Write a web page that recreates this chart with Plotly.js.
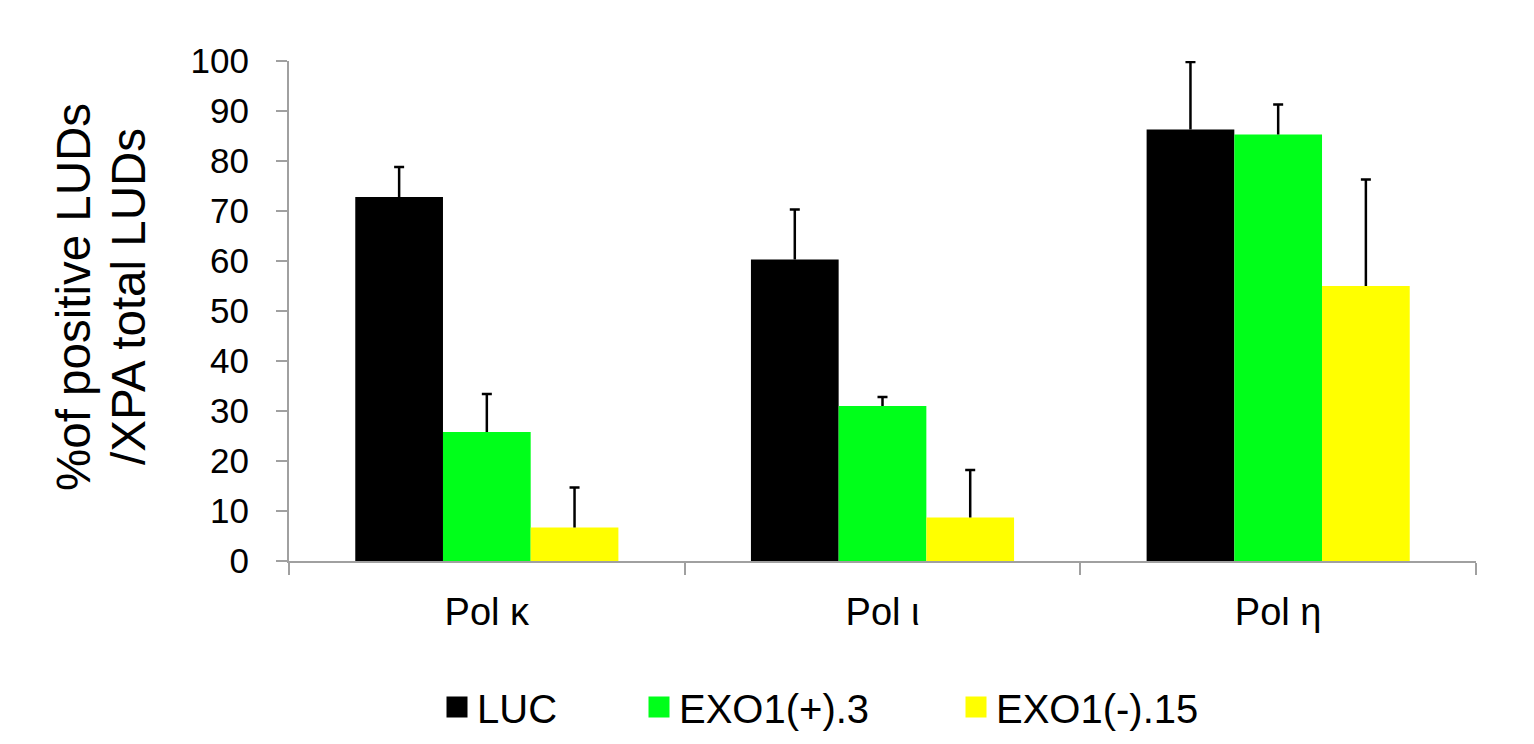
<!DOCTYPE html>
<html>
<head>
<meta charset="utf-8">
<script src="https://cdn.plot.ly/plotly-3.0.1.min.js"></script>
<style>html,body{margin:0;padding:0;background:#fff;}#chart{width:1534px;height:744px;}</style>
</head>
<body>
<div id="chart"></div>
<script>
const categories = ["Pol κ", "Pol ι", "Pol η"];
const seriesNames = ["LUC", "EXO1(+).3", "EXO1(-).15"];
const lucValues = [72.8, 60.3, 86.3];
const lucErrors = [6.0, 10.0, 13.5];
const exoPlusValues = [25.8, 31.0, 85.3];
const exoPlusErrors = [7.6, 1.8, 6.0];
const exoMinusValues = [6.7, 8.7, 55.0];
const exoMinusErrors = [8.0, 9.5, 21.3];
const yTickValues = [0, 10, 20, 30, 40, 50, 60, 70, 80, 90, 100];
const yTitleLines = ["%of positive LUDs", "/XPA total LUDs"];

const colors = ["#000000", "#00FF1A", "#FFFF00"];
const values = [lucValues, exoPlusValues, exoMinusValues];
const errors = [lucErrors, exoPlusErrors, exoMinusErrors];
const legendIds = ["legend", "legend2", "legend3"];
const legendX = [437, 639, 956];

const FONT = "Liberation Sans, Arial, sans-serif";
const traces = [];
// bars with error stems (no caps)
for (let i = 0; i < 3; i++) {
  traces.push({
    type: "bar",
    x: categories,
    y: values[i],
    name: seriesNames[i],
    showlegend: false,
    marker: {color: colors[i], line: {width: 0}},
    error_y: {type: "data", array: errors[i], symmetric: false, arrayminus: [0,0,0],
              visible: true, color: "#000000", thickness: 2.5, width: 0},
    hoverinfo: "skip"
  });
}
// top caps of the error bars (grouped scatter points at value + error)
for (let i = 0; i < 3; i++) {
  traces.push({
    type: "scatter", mode: "markers",
    x: categories,
    y: values[i].map((v, k) => v + errors[i][k]),
    showlegend: false,
    marker: {color: "rgba(0,0,0,0)", size: 1},
    error_y: {type: "data", array: [0,0,0], visible: true, color: "#000000", thickness: 2.5, width: 5},
    hoverinfo: "skip"
  });
}
// legend entries (on a hidden axis pair)
for (let i = 0; i < 3; i++) {
  traces.push({
    type: "scatter", mode: "markers",
    x: [null], y: [null],
    xaxis: "x2", yaxis: "y2",
    name: seriesNames[i],
    legend: legendIds[i],
    showlegend: true,
    marker: {symbol: "square", size: 16, color: colors[i], line: {width: 5, color: colors[i]}},
    hoverinfo: "skip"
  });
}

const legendBase = (i) => ({
  xref: "container", yref: "container",
  x: legendX[i] / 1534, y: 1 - 707 / 744,
  xanchor: "left", yanchor: "middle",
  orientation: "h",
  bgcolor: "rgba(0,0,0,0)", borderwidth: 0,
  font: {family: FONT, size: 40, color: "#000"},
  itemwidth: 30
});

const titleX = [73, 128];
const annotations = yTitleLines.map((t, i) => ({
  text: t, textangle: -90, showarrow: false,
  xref: "paper", yref: "paper",
  x: (titleX[i] - 289) / 1187, y: (561 - 297) / 500,
  xanchor: "center", yanchor: "middle",
  font: {family: FONT, size: 47.5, color: "#000"}
}));

const layout = {
  width: 1534, height: 744,
  paper_bgcolor: "#ffffff", plot_bgcolor: "#ffffff",
  margin: {l: 289, r: 58, t: 61, b: 183, autoexpand: false},
  barmode: "group",
  bargap: 0.335,
  bargroupgap: 0,
  scattermode: "group",
  scattergap: 0.335,
  font: {family: FONT, color: "#000"},
  xaxis: {
    type: "category",
    showline: true, linecolor: "#A0A0A0", linewidth: 2,
    ticks: "outside", tickson: "boundaries", ticklen: 12, tickwidth: 2, tickcolor: "#A0A0A0",
    tickfont: {family: FONT, size: 38, color: "#000"},
    ticklabelstandoff: 16,
    showgrid: false, zeroline: false, fixedrange: true
  },
  yaxis: {
    range: [0, 100],
    tickvals: yTickValues,
    ticktext: yTickValues.map(String),
    showline: true, linecolor: "#A0A0A0", linewidth: 2,
    ticks: "outside", ticklen: 11, tickwidth: 2, tickcolor: "#A0A0A0",
    tickfont: {family: FONT, size: 35, color: "#000"},
    ticklabelstandoff: 20,
    showgrid: false, zeroline: false, fixedrange: true
  },
  xaxis2: {visible: false, overlaying: "x", fixedrange: true},
  yaxis2: {visible: false, overlaying: "y", fixedrange: true},
  annotations: annotations,
  legend: legendBase(0),
  legend2: legendBase(1),
  legend3: legendBase(2),
  showlegend: true
};

Plotly.newPlot("chart", traces, layout, {staticPlot: true, displayModeBar: false});
</script>
</body>
</html>
